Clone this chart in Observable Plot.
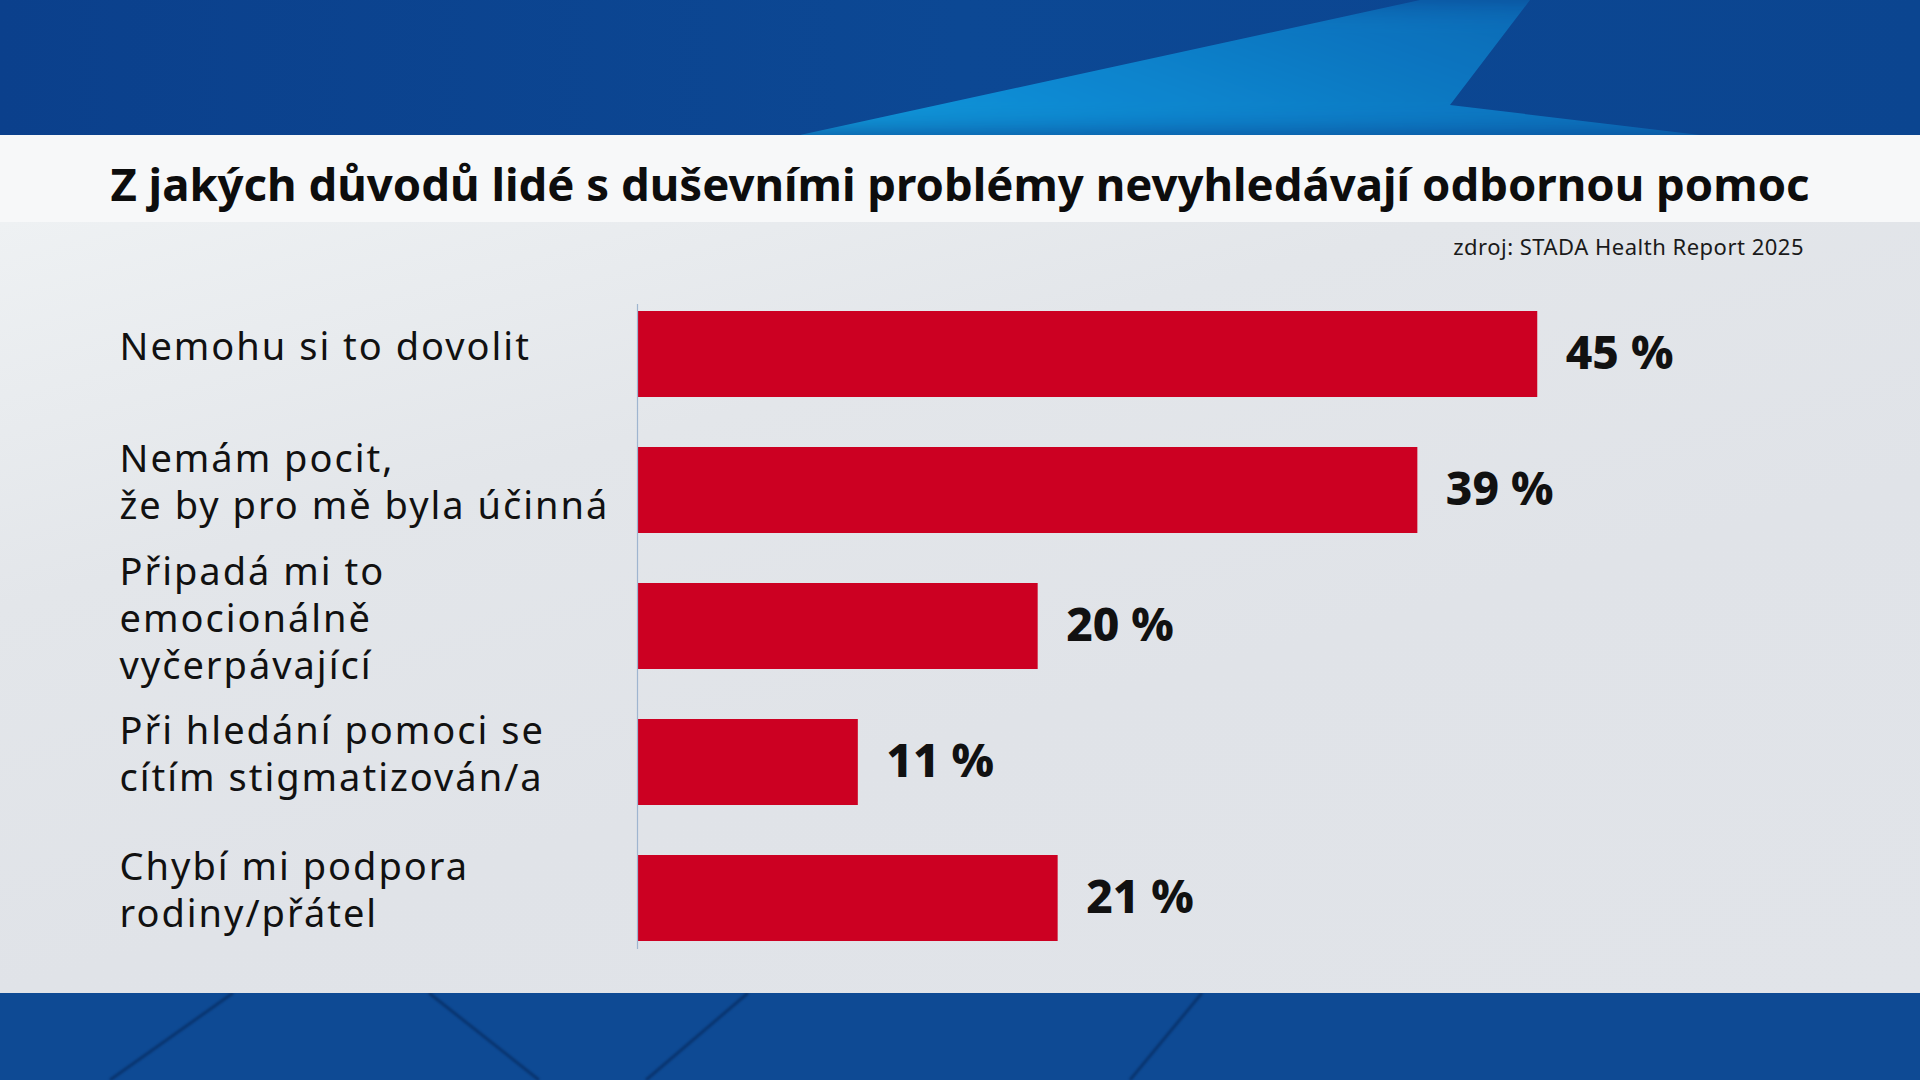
<!DOCTYPE html>
<html>
<head>
<meta charset="utf-8">
<script src="https://cdn.jsdelivr.net/npm/d3@7"></script>
<script src="https://cdn.jsdelivr.net/npm/@observablehq/plot@0.6"></script>
<style>
  html, body { margin: 0; padding: 0; width: 1920px; height: 1080px; overflow: hidden; }
  body { position: relative; font-family: "Noto Sans", sans-serif; background: #e1e4e9; }
  #topband { position: absolute; left: 0; top: 0; width: 1920px; height: 135px;
    background: linear-gradient(90deg, #0b408c 0%, #0c4894 50%, #0b4590 100%); overflow: hidden; }
  #streak { position: absolute; left: 0; top: 0; width: 1920px; height: 135px;
    background: linear-gradient(200deg, #0b5aa8 0%, #0e8fd6 50%, #1ac8f0 100%);
    clip-path: polygon(800px 135px, 1420px 0px, 1530px 0px, 1450px 105px, 1700px 135px);
    filter: blur(14px); opacity: 0.95; }
  #titleband { position: absolute; left: 0; top: 135px; width: 1920px; height: 87px; background: #f7f8f9; }
  #title { position: absolute; left: 0; top: 140px; width: 1920px; height: 87px; line-height: 87px;
    text-align: center; font-weight: 700; font-size: 45.5px; color: #0d0d0d; white-space: nowrap; }
  #panel { position: absolute; left: 0; top: 222px; width: 1920px; height: 771px;
    background: linear-gradient(165deg, #eef1f3 0%, #e3e6ea 30%, #e0e3e8 60%, #e1e4e9 100%); }
  #source { position: absolute; right: 116px; top: 231px; font-size: 22px; letter-spacing: 0.5px; color: #1a1a1a; white-space: nowrap; }
  #bottomband { position: absolute; left: 0; top: 993px; width: 1920px; height: 87px; background: #0e4a94; }
  #chart { position: absolute; left: 0; top: 222px; }
</style>
</head>
<body>
<div id="topband"><div id="streak"></div></div>
<div id="titleband"></div>
<div id="title"></div>
<div id="panel"></div>
<div id="source"></div>
<div id="bottomband">
  <svg width="1920" height="87" style="position:absolute;left:0;top:0">
    <g stroke="#082f66" stroke-width="3" opacity="0.8" style="filter: blur(1px)">
      <line x1="233" y1="0" x2="110" y2="87"/>
      <line x1="429" y1="0" x2="539" y2="87"/>
      <line x1="748" y1="0" x2="646" y2="87"/>
      <line x1="1202" y1="0" x2="1130" y2="87"/>
    </g>
  </svg>
</div>
<div id="chart"></div>
<script>
const titleText = "Z jakých důvodů lidé s duševními problémy nevyhledávají odbornou pomoc";
const sourceText = "zdroj: STADA Health Report 2025";
const categories = [
  "Nemohu si to dovolit",
  "Nemám pocit,\nže by pro mě byla účinná",
  "Připadá mi to\nemocionálně\nvyčerpávající",
  "Při hledání pomoci se\ncítím stigmatizován/a",
  "Chybí mi podpora\nrodiny/přátel"
];
const values = [45, 39, 20, 11, 21];
const valueLabels = ["45 %", "39 %", "20 %", "11 %", "21 %"];

document.getElementById("title").textContent = titleText;
document.getElementById("source").textContent = sourceText;

const data = categories.map((c, i) => ({cat: c, value: values[i], label: valueLabels[i]}));

const chart = Plot.plot({
  width: 1920,
  height: 771,
  marginLeft: 638,
  marginRight: 83,
  marginTop: 38,
  marginBottom: 1,
  style: {background: "transparent", overflow: "visible", fontFamily: "'Noto Sans', sans-serif"},
  x: {domain: [0, 60], axis: null},
  y: {domain: categories, padding: 0.368, axis: null},
  marks: [
    Plot.barX(data, {x: "value", y: "cat", fill: "#cc0022"}),
    Plot.ruleX([0], {stroke: "#9fb5d0", strokeWidth: 1.2, insetTop: 44, insetBottom: 43, dx: -1}),
    Plot.text(data, {y: "cat", text: "cat", frameAnchor: "left", textAnchor: "start", dx: -519,
      lineAnchor: "middle", dy: -10, fontSize: 38, lineHeight: 1.237, fill: "#111"}),
    Plot.text(data, {x: "value", y: "cat", text: "label", textAnchor: "start", dx: 28,
      fontSize: 46, fontWeight: 800, fill: "#111"})
  ]
});
d3.select(chart).selectAll('g[aria-label="text"]').filter((d, i) => i === 0).attr("letter-spacing", "2px");
document.getElementById("chart").appendChild(chart);
</script>
</body>
</html>
